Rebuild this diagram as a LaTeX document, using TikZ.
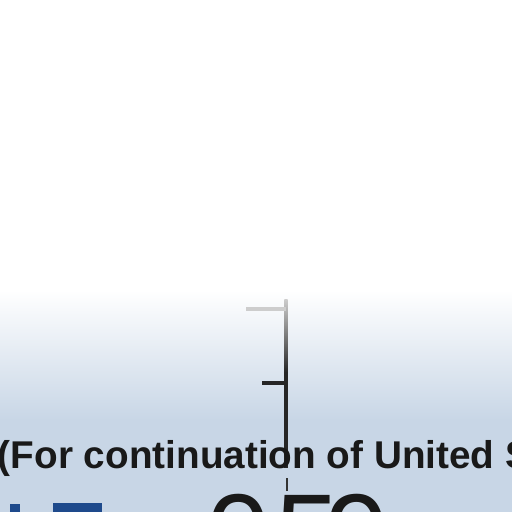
\documentclass[tikz,border=0pt]{standalone}
\usepackage{fontspec}
\setmainfont{Liberation Sans}
\begin{document}
\begin{tikzpicture}[x=1pt,y=-1pt,
  txt/.style={inner sep=0pt,outer sep=0pt,anchor=base west,text=black!90},
  tick/.style={line width=3.2pt},
  bluebar/.style={fill=barblue,draw=none}]
\definecolor{bgblue}{RGB}{200,214,230}
\definecolor{barblue}{RGB}{30,74,140}
\definecolor{lightgrey}{RGB}{205,205,205}
\useasboundingbox (0,0) rectangle (512,512);
% background
\fill[white] (0,0) rectangle (512,292);
\shade[top color=white,bottom color=bgblue] (0,290) rectangle (512,420);
\fill[bgblue] (0,419) rectangle (512,512);
% vertical rule and ticks
\coordinate (vtop) at (286,299);
\coordinate (vmid) at (286,372);
\coordinate (vbot) at (286,468);
\coordinate (tickA) at (246,309);
\coordinate (tickAe) at (286,309);
\coordinate (tickB) at (262,383);
\coordinate (tickBe) at (286,383);
\shade[top color=lightgrey,bottom color=black!85] (284.4,299) rectangle (287.6,372);
\draw[tick,black!85] (vmid) -- (vbot);
\draw[tick,lightgrey] (tickA) -- (tickAe);
\draw[tick,black!85] (tickB) -- (tickBe);
\coordinate (vlow) at (287,478);
\coordinate (vlowe) at (287,491);
\draw[line width=2.4pt,black!80] (vlow) -- (vlowe);
% text line
\node[txt,font=\bfseries\fontsize{38.7}{40}\selectfont] (cont) at (-2,468) {(For continuation of United S};
% big digits
\node[txt,font=\fontsize{115}{115}\selectfont] (d0) at (206,574) {0};
\node[txt,font=\fontsize{115}{115}\selectfont] (d5) at (275,574) {5};
\node[txt,font=\fontsize{115}{115}\selectfont] (d9) at (325,574) {9};
% blue bars
\fill[bluebar] (10,504) rectangle (20,512);
\fill[bluebar] (53,503) rectangle (102,512);
\end{tikzpicture}
\end{document}
